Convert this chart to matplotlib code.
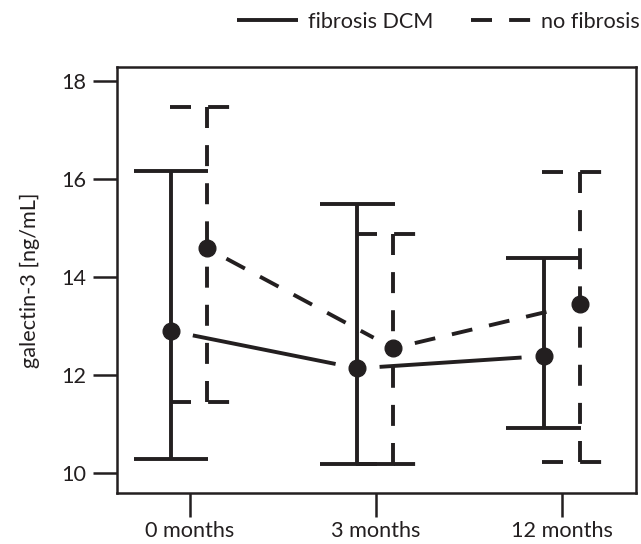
import matplotlib
matplotlib.use("Agg")
import matplotlib.pyplot as plt
from matplotlib.lines import Line2D

plt.rcParams['font.family'] = ['Lato', 'DejaVu Sans']

# ---- data ----
categories = ["0 months", "3 months", "12 months"]
dcm_mean = [12.90, 12.14, 12.39]
dcm_upper = [16.17, 15.49, 14.39]
dcm_lower = [10.30, 10.20, 10.92]
nof_mean = [14.59, 12.55, 13.45]
nof_upper = [17.47, 14.88, 16.14]
nof_lower = [11.45, 10.20, 10.23]
series_names = ["fibrosis DCM", "no fibrosis"]
yticks = [10, 12, 14, 16, 18]

# ---- style ----
C = "#231f20"
LW = 2.8
DASH = (0, (5.4, 4.4))
offsets = [-0.10, 0.092]
cap_half = 0.20
FS = 15.6

W, H = 641, 544
fig = plt.figure(figsize=(W / 100, H / 100), dpi=100)
ax = fig.add_axes([117 / W, (H - 493) / H, (636 - 117) / W, (493 - 67) / H])

xpos = list(range(len(categories)))

def draw_series(means, lows, highs, off, ls):
    xs = [x + off for x in xpos]
    for x, m, lo, hi in zip(xs, means, lows, highs):
        # vertical whiskers (from caps toward the mean)
        ax.plot([x, x], [hi, m], color=C, lw=LW, ls=ls, solid_capstyle='butt', dash_capstyle='butt')
        ax.plot([x, x], [lo, m], color=C, lw=LW, ls=ls, solid_capstyle='butt', dash_capstyle='butt')
        # caps
        for v in (lo, hi):
            ax.plot([x - cap_half, x + cap_half], [v, v], color=C, lw=LW, ls=ls,
                    solid_capstyle='butt', dash_capstyle='butt')
    ax.plot(xs, means, ls='none', marker='o', ms=12, color=C, zorder=5)
    # connecting lines with gaps around markers
    for i in range(len(xs) - 1):
        ax.annotate('', xy=(xs[i + 1], means[i + 1]), xytext=(xs[i], means[i]),
                    arrowprops=dict(arrowstyle='-', shrinkA=16, shrinkB=16, lw=LW,
                                    color=C, linestyle=ls, capstyle='butt'))

draw_series(dcm_mean, dcm_lower, dcm_upper, offsets[0], '-')
draw_series(nof_mean, nof_lower, nof_upper, offsets[1], DASH)

ax.set_xlim(-0.39, 2.395)
ax.set_ylim(9.60, 18.28)
ax.set_xticks(xpos)
ax.set_xticklabels(categories, fontsize=FS, color=C)
ax.set_yticks(yticks)
ax.set_yticklabels([str(t) for t in yticks], fontsize=FS, color=C)
ax.tick_params(axis='both', direction='out', length=17, width=1.8, color=C)
ax.tick_params(axis='y', pad=5)
ax.tick_params(axis='x', pad=3)
for s in ax.spines.values():
    s.set_linewidth(1.8)
    s.set_color(C)
ax.set_ylabel("galectin-3 [ng/mL]", fontsize=FS, color=C, labelpad=15)

handles = [Line2D([], [], color=C, lw=LW, ls='-', solid_capstyle='butt'),
           Line2D([], [], color=C, lw=LW, ls=DASH, dash_capstyle='butt')]
fig.legend(handles, series_names, loc='center right', bbox_to_anchor=(1 - 1 / W, 1 - 22 / H),
           ncol=2, frameon=False, fontsize=FS, handlelength=2.8, handletextpad=0.45,
           columnspacing=1.75, borderpad=0, borderaxespad=0, labelcolor=C)

fig.savefig("out.png", dpi=100)
